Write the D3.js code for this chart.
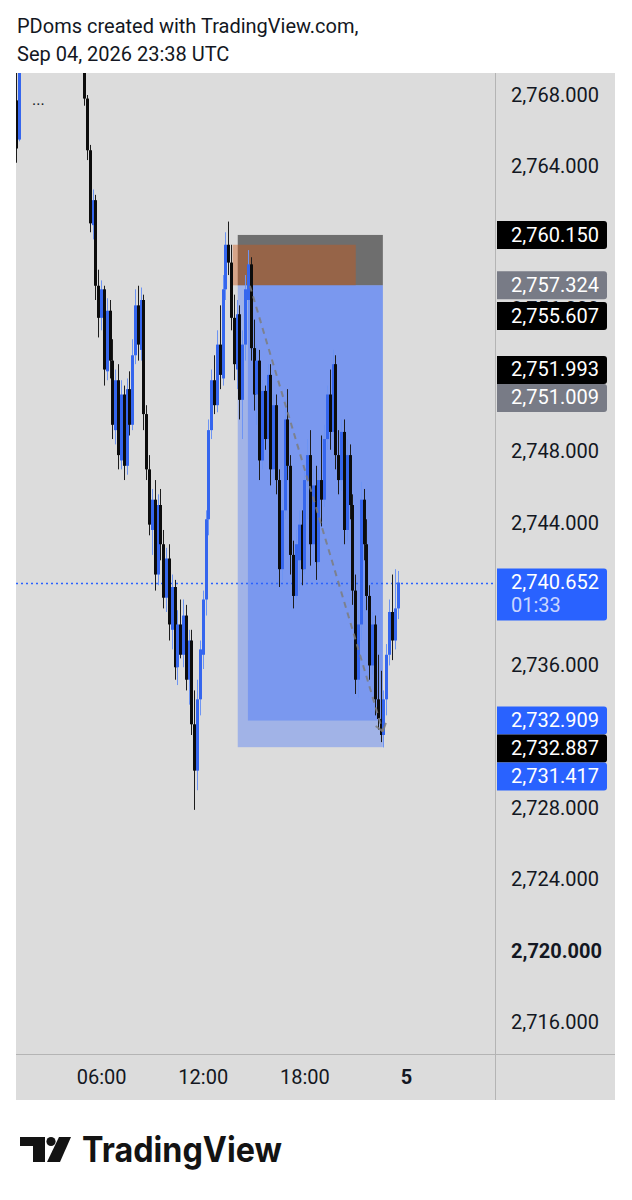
<!DOCTYPE html>
<html><head><meta charset="utf-8">
<script src="https://cdn.jsdelivr.net/npm/d3@7"></script>
<style>
html,body{margin:0;padding:0;background:#fff;}
svg{display:block;font-family:Roboto,"Noto Sans",sans-serif;}
</style>
</head><body>
<svg id="chart" width="632" height="1200"></svg>
<script>
// ---------------- DATA ----------------
const barTimes = ["01:00","01:10",
"05:00","05:10","05:20","05:30","05:40","05:50",
"06:00","06:10","06:20","06:30","06:40","06:50",
"07:00","07:10","07:20","07:30","07:40","07:50",
"08:00","08:10","08:20","08:30","08:40","08:50",
"09:00","09:10","09:20","09:30","09:40","09:50",
"10:00","10:10","10:20","10:30","10:40","10:50",
"11:00","11:10","11:20","11:30","11:40","11:50",
"12:00","12:10","12:20","12:30","12:40","12:50",
"13:00","13:10","13:20","13:30","13:40","13:50",
"14:00","14:10","14:20","14:30","14:40","14:50",
"15:00","15:10","15:20","15:30","15:40","15:50",
"16:00","16:10","16:20","16:30","16:40","16:50",
"17:00","17:10","17:20","17:30","17:40","17:50",
"18:00","18:10","18:20","18:30","18:40","18:50",
"19:00","19:10","19:20","19:30","19:40","19:50",
"20:00","20:10","20:20","20:30","20:40","20:50",
"21:00","21:10","21:20","21:30","21:40","21:50",
"22:00","22:10","22:20","22:30","22:40","22:50",
"23:00","23:10","23:20","23:30"];

const opens = [2767.7,2765.5,
2770.0,2767.8,2764.9,2760.7,2762.1,2757.3,
2755.5,2757.1,2752.5,2755.9,2753.1,2749.2,
2752.0,2747.5,2751.2,2747.2,2751.5,2749.5,
2753.4,2756.2,2753.7,2756.5,2750.1,2747.0,
2743.6,2745.3,2741.1,2745.0,2742.8,2739.8,
2742.0,2738.0,2740.4,2735.9,2738.3,2736.6,
2738.8,2735.2,2737.4,2732.7,2730.1,2734.1,
2736.6,2739.7,2744.2,2749.2,2752.0,2750.6,
2754.0,2752.1,2757.1,2759.6,2758.6,2755.5,
2752.6,2755.7,2750.9,2754.0,2756.5,2758.5,
2753.8,2751.2,2753.1,2747.5,2751.4,2748.7,
2752.3,2747.0,2750.6,2746.4,2741.4,2744.7,
2749.8,2747.2,2742.2,2739.9,2741.9,2743.9,
2741.4,2746.4,2747.8,2742.8,2746.1,2741.8,
2746.4,2745.3,2748.7,2751.2,2749.1,2752.9,
2747.8,2746.4,2749.1,2743.6,2747.8,2745.0,
2740.2,2735.2,2738.3,2745.3,2742.8,2739.9,
2736.0,2738.3,2734.1,2733.0,2732.1,2734.1,
2736.6,2739.0,2737.4,2739.2];

const highs = [2769.6,2770.2,
2770.3,2768.0,2765.2,2762.7,2762.4,2758.2,
2757.6,2757.3,2756.6,2756.5,2754.3,2752.6,
2752.9,2752.0,2751.7,2752.1,2752.5,2754.3,
2757.1,2757.3,2757.2,2756.8,2750.6,2747.8,
2745.9,2746.4,2745.6,2745.9,2743.6,2742.6,
2742.8,2741.1,2740.8,2739.1,2739.7,2739.7,
2739.4,2738.0,2738.0,2734.6,2735.2,2737.4,
2740.2,2744.7,2749.8,2752.6,2753.4,2754.8,
2756.2,2757.9,2760.3,2760.9,2759.6,2756.8,
2756.5,2756.2,2754.8,2757.9,2759.3,2758.9,
2755.4,2754.0,2753.7,2752.0,2751.7,2752.9,
2752.9,2751.2,2751.2,2747.0,2745.3,2750.9,
2751.5,2747.8,2743.0,2743.6,2744.7,2744.7,
2747.0,2748.7,2749.2,2747.0,2747.2,2747.0,
2748.9,2749.5,2751.7,2752.6,2753.7,2753.4,
2749.2,2749.8,2749.8,2748.7,2748.4,2745.6,
2741.1,2739.1,2746.3,2745.9,2744.2,2740.5,
2739.0,2738.8,2736.6,2735.7,2734.6,2737.2,
2739.7,2741.1,2741.4,2741.3];

const lows = [2764.2,2765.4,
2767.4,2764.35,2760.3,2759.9,2756.5,2754.4,
2754.8,2751.7,2752.0,2752.1,2748.7,2748.4,
2747.0,2747.0,2746.4,2746.7,2748.9,2749.2,
2752.9,2753.1,2753.1,2749.2,2746.4,2743.3,
2742.2,2740.2,2740.5,2741.9,2739.2,2739.0,
2737.4,2736.9,2735.2,2734.9,2736.4,2735.9,
2734.6,2733.8,2732.1,2727.9,2729.0,2733.2,
2735.8,2738.8,2743.3,2748.7,2750.1,2750.2,
2751.5,2751.7,2756.5,2757.9,2754.8,2752.0,
2751.5,2749.8,2748.7,2753.1,2754.8,2753.1,
2750.3,2749.5,2746.4,2747.0,2748.1,2748.1,
2746.1,2746.5,2745.6,2740.4,2740.8,2744.2,
2746.4,2741.1,2739.2,2739.7,2740.2,2740.5,
2741.1,2744.2,2741.6,2741.9,2740.8,2741.4,
2743.8,2744.9,2748.1,2748.1,2748.7,2747.0,
2745.6,2745.8,2742.8,2743.0,2744.2,2739.4,
2734.4,2734.2,2737.4,2741.9,2739.1,2735.2,
2735.5,2733.2,2732.4,2731.7,2731.4,2733.2,
2736.0,2736.3,2736.9,2738.6];

const closes = [2765.0,2769.5,
2767.8,2764.9,2760.8,2762.1,2757.3,2755.5,
2757.1,2752.6,2755.9,2753.1,2749.5,2752.0,
2747.8,2751.2,2747.2,2751.5,2749.5,2753.4,
2756.2,2754.0,2756.5,2750.1,2747.0,2743.9,
2745.3,2741.1,2745.0,2742.8,2739.8,2742.0,
2738.3,2740.4,2735.9,2738.3,2736.6,2738.8,
2735.2,2737.4,2732.7,2730.1,2734.1,2736.9,
2739.7,2744.2,2749.2,2752.0,2750.6,2754.0,
2752.3,2757.1,2759.6,2758.6,2755.5,2752.9,
2755.7,2750.9,2754.0,2757.1,2758.5,2753.8,
2751.2,2753.1,2747.5,2751.4,2748.7,2752.3,
2747.0,2750.6,2746.4,2741.4,2744.7,2749.8,
2747.2,2742.2,2739.9,2742.8,2743.9,2741.4,
2746.4,2747.8,2742.8,2746.1,2741.8,2746.4,
2745.3,2748.7,2751.2,2749.1,2752.9,2747.8,
2746.4,2749.1,2743.6,2747.8,2745.0,2740.2,
2735.2,2738.3,2745.3,2742.8,2739.9,2736.0,
2738.3,2734.1,2733.0,2732.1,2734.1,2736.6,
2739.0,2737.4,2739.2,2740.652];

const priceTicks = [2768,2764,2760,2756,2752,2748,2744,2740,2736,2732,2728,2724,2720,2716];
const boldPriceTicks = [2720];
const timeTickValues = ["2026-09-04T06:00:00Z","2026-09-04T12:00:00Z","2026-09-04T18:00:00Z","2026-09-05T00:00:00Z"];
const timeTickLabels = ["06:00","12:00","18:00","5"];
const boldTimeTicks = ["5"];

// price tags on the right scale, in stacking priority order
const tagPrices = [2740.652,2760.150,2757.324,2755.607,2751.009,2751.993,2732.909,2732.887,2731.417];
const tagKinds  = ["blue","black","gray","black","gray","black","blue","black","blue"];
const tagSubText = ["01:33","","","","","","","",""];
const currentPrice = 2740.652;

// position-tool drawings (times UTC Sep 04, prices)
const boxNames  = ["stop","entryBand","targetOuter","targetInner"];
const boxStart  = ["14:04","13:46","14:04","14:40"];
const boxEnd    = ["22:38","21:02","22:38","22:38"];
const boxTop    = [2760.150,2759.600,2757.324,2757.324];
const boxBottom = [2757.324,2757.324,2731.417,2732.909];
const arrowTimes  = ["14:47","22:38"];
const arrowPrices = [2757.30,2732.30];

const titleLines = ["PDoms created with TradingView.com,","Sep 04, 2026 23:38 UTC"];

// ---------------- LAYOUT ----------------
const W = 632, H = 1200;
const panel = {x:16, y:73, r:615, b:1100};
const plot = {l:16, r:495, t:73, b:1054};
const ink = "#131722";
const colors = {
  bg:"#dcdcdc", axisLine:"#b4b4b4",
  upBody:"#3566ee", upWick:"#6d94f3", downBody:"#0c0c0c", downWick:"#1c1c1c",
  blue:"#2962ff", black:"#000000", gray:"#787b86"
};
const boxFill = {
  stop:"rgba(0,0,0,0.50)",
  entryBand:"rgba(205,85,20,0.42)",
  targetOuter:"rgba(41,98,255,0.33)",
  targetInner:"rgba(41,98,255,0.33)"
};

const parseT = t => new Date(`2026-09-04T${t}:00Z`);
const x = d3.scaleUtc()
  .domain([new Date("2026-09-04T00:00:00Z"), new Date("2026-09-05T00:00:00Z")])
  .range([-0.5, 406]);
const y = d3.scaleLinear().domain([2768, 2716]).range([95, 1022]);
const fmt = d3.format(",.3f");

const svg = d3.select("#chart");
svg.append("rect").attr("width",W).attr("height",H).attr("fill","#fff");

// header
svg.selectAll("text.title").data(titleLines).join("text")
  .attr("class","title").attr("x",17).attr("y",(d,i)=>33+i*28)
  .attr("font-size",20).attr("fill",ink).text(d=>d);

// panel
svg.append("rect").attr("x",panel.x).attr("y",panel.y)
  .attr("width",panel.r-panel.x).attr("height",panel.b-panel.y).attr("fill",colors.bg);

const defs = svg.append("defs");
defs.append("clipPath").attr("id","plotClip").append("rect")
  .attr("x",plot.l).attr("y",plot.t).attr("width",plot.r-plot.l).attr("height",plot.b-plot.t);

const g = svg.append("g").attr("clip-path","url(#plotClip)");

// drawings: boxes
const boxes = boxNames.map((n,i)=>({name:n, t0:parseT(boxStart[i]), t1:parseT(boxEnd[i]), p0:boxTop[i], p1:boxBottom[i]}));
g.selectAll("rect.box").data(boxes).join("rect").attr("class","box")
  .attr("x",d=>x(d.t0)).attr("width",d=>x(d.t1)-x(d.t0))
  .attr("y",d=>y(d.p0)).attr("height",d=>y(d.p1)-y(d.p0))
  .attr("fill",d=>boxFill[d.name]);

// current price dotted line (under candles)
g.append("line").attr("x1",plot.l).attr("x2",plot.r)
  .attr("y1",Math.round(y(currentPrice))+0.5).attr("y2",Math.round(y(currentPrice))+0.5)
  .attr("stroke",colors.blue).attr("stroke-width",1.3).attr("stroke-dasharray","2,3");

// candles
const bars = barTimes.map((t,i)=>({t:parseT(t), o:opens[i], h:highs[i], l:lows[i], c:closes[i]}));
const cg = g.append("g");
const cs = cg.selectAll("g.bar").data(bars).join("g").attr("class","bar");
cs.append("line")
  .attr("x1",d=>Math.round(x(d.t))+0.5).attr("x2",d=>Math.round(x(d.t))+0.5)
  .attr("y1",d=>y(d.h)).attr("y2",d=>y(d.l))
  .attr("stroke",d=>d.c>=d.o?colors.upWick:colors.downWick).attr("stroke-width",1);
cs.append("rect")
  .attr("x",d=>Math.round(x(d.t))-1).attr("width",3)
  .attr("y",d=>y(Math.max(d.o,d.c)))
  .attr("height",d=>Math.max(1,Math.abs(y(d.o)-y(d.c))))
  .attr("fill",d=>d.c>=d.o?colors.upBody:colors.downBody);

// dashed arrow of position tool
const ax0 = x(parseT(arrowTimes[0])), ay0 = y(arrowPrices[0]);
const ax1 = x(parseT(arrowTimes[1])), ay1 = y(arrowPrices[1]);
g.append("line").attr("x1",ax0).attr("y1",ay0).attr("x2",ax1).attr("y2",ay1)
  .attr("stroke","rgba(125,125,125,0.85)").attr("stroke-width",2).attr("stroke-dasharray","6,5");
const ang = Math.atan2(ay1-ay0, ax1-ax0), al = 9;
[Math.PI*0.8, -Math.PI*0.8].forEach(da=>{
  g.append("line").attr("x1",ax1).attr("y1",ay1)
   .attr("x2",ax1+al*Math.cos(ang+da)).attr("y2",ay1+al*Math.sin(ang+da))
   .attr("stroke","rgba(125,125,125,0.85)").attr("stroke-width",2);
});

// "..." legend toggle
svg.append("text").attr("x",32).attr("y",105).attr("font-size",16).attr("fill",ink).text("...");

// axis separator lines
svg.append("line").attr("x1",495.5).attr("x2",495.5).attr("y1",panel.y).attr("y2",panel.b)
  .attr("stroke",colors.axisLine);
svg.append("line").attr("x1",panel.x).attr("x2",panel.r).attr("y1",1054.5).attr("y2",1054.5)
  .attr("stroke",colors.axisLine);

// price tags with simple collision stacking
const tags = tagPrices.map((p,i)=>({p, kind:tagKinds[i], sub:tagSubText[i]}));
const placed = [];
tags.forEach(tg=>{
  const h = tg.sub ? 52 : 28;
  let top = y(tg.p) - 14;
  for (let k=0;k<12;k++){
    const hit = placed.find(q=> top < q.bottom-0.01 && top+h > q.top+0.01);
    if (!hit) break;
    top = (tg.p < hit.p) ? hit.bottom : hit.top - h;
  }
  tg.top = top; tg.bottom = top + h; tg.h = h;
  placed.push(tg);
});

// price axis (labels fully hidden under the tags are not drawn)
const inTag = yy => tags.some(t => yy >= t.top - 0.5 && yy <= t.bottom + 0.5);
const coveredTick = v => [-8,-4,0,4,8].every(o => inTag(y(v)+o));
const yAxis = d3.axisRight(y).tickValues(priceTicks.filter(v=>!coveredTick(v)))
  .tickSize(0).tickPadding(16).tickFormat(fmt);
const ya = svg.append("g").attr("transform","translate(495,0)").call(yAxis);
ya.select(".domain").remove();
ya.selectAll("text").attr("font-size",20).attr("font-family","Roboto, sans-serif").attr("fill",ink)
  .attr("font-weight",d=>boldPriceTicks.includes(d)?700:400);

// time axis
const xAxis = d3.axisBottom(x).tickValues(timeTickValues.map(s=>new Date(s)))
  .tickSize(0).tickPadding(16).tickFormat((d,i)=>timeTickLabels[i]);
const xa = svg.append("g").attr("transform","translate(0,1054)").call(xAxis);
xa.select(".domain").remove();
xa.selectAll("text").attr("font-size",20).attr("font-family","Roboto, sans-serif").attr("fill",ink)
  .attr("font-weight",(d,i)=>boldTimeTicks.includes(timeTickLabels[i])?700:400);

// tags drawn over the axis
const tagG = svg.append("g");
const bx0 = 497, bx1 = 607, rr = 3;
tagG.selectAll("path.tag").data(tags).join("path").attr("class","tag")
  .attr("d",d=>`M${bx0},${d.top} H${bx1-rr} Q${bx1},${d.top} ${bx1},${d.top+rr} V${d.bottom-rr} Q${bx1},${d.bottom} ${bx1-rr},${d.bottom} H${bx0} Z`)
  .attr("fill",d=>colors[d.kind]);
tagG.selectAll("text.tagv").data(tags).join("text").attr("class","tagv")
  .attr("x",511).attr("y",d=>d.top+14+6.6).attr("font-size",20).attr("fill","#fff")
  .text(d=>fmt(d.p));
tagG.selectAll("text.tags").data(tags.filter(d=>d.sub)).join("text").attr("class","tags")
  .attr("x",511).attr("y",d=>d.top+43).attr("font-size",20).attr("fill","#c9d6ff")
  .text(d=>d.sub);

// TradingView logo
const logo = svg.append("g").attr("fill","#131313");
logo.append("path").attr("d","M20,1137 H45 V1162 H33 V1146 H20 Z");
logo.append("circle").attr("cx",51).attr("cy",1141.5).attr("r",4.6);
logo.append("path").attr("d","M59,1137 H71 L60,1162 H47 Z");
logo.append("text").attr("x",82).attr("y",1162).attr("font-family","Inter, Roboto, sans-serif")
  .attr("font-weight",700).attr("font-size",35).attr("textLength",200)
  .attr("lengthAdjust","spacingAndGlyphs").text("TradingView");
</script>
</body></html>
